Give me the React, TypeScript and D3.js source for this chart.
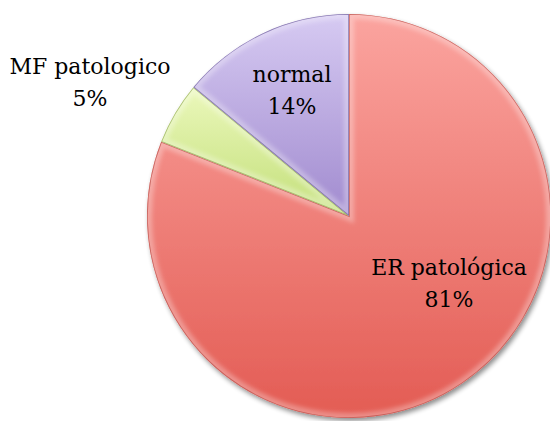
import React from "react";
import * as d3 from "d3";

const categories = ["ER patológica", "MF patologico", "normal"];
const values = [81, 5, 14];
const percentLabels = ["81%", "5%", "14%"];
const colorTop = ["#fba49f", "#ebf8bb", "#d6caf2"];
const colorBottom = ["#e35c54", "#c3df7a", "#a18bcf"];
const edgeColors = ["#b84a44", "#8fa850", "#6a5898"];

const W = 550;
const H = 421;
const CX = 349;
const CY = 216;
const R = 202;
// label anchor offsets relative to pie centre (Excel-style best-fit placement)
const LABEL_OFFSETS: [number, number][] = [
  [100, 75],
  [-259, -126],
  [-57, -118],
];

export default function App() {
  const pie = d3
    .pie<number>()
    .sort(null)
    .startAngle(0)
    .endAngle(2 * Math.PI)
    .value((d) => d);
  const arcs = pie(values);
  const arcGen = d3.arc<d3.PieArcDatum<number>>().innerRadius(0).outerRadius(R);

  return (
    <svg
      width={W}
      height={H}
      style={{ position: "absolute", left: 0, top: 0, background: "#fff" }}
    >
      <defs>
        <filter id="shadow" x="-10%" y="-10%" width="130%" height="130%">
          <feGaussianBlur in="SourceAlpha" stdDeviation="2.5" />
          <feOffset dx="2" dy="3" result="off" />
          <feComponentTransfer>
            <feFuncA type="linear" slope="0.45" />
          </feComponentTransfer>
          <feMerge>
            <feMergeNode />
            <feMergeNode in="SourceGraphic" />
          </feMerge>
        </filter>
        <filter id="soft" x="-5%" y="-5%" width="110%" height="110%">
          <feGaussianBlur stdDeviation="2" />
        </filter>
        {arcs.map((a, i) => (
          <linearGradient key={i} id={`g${i}`} x1="0" y1="0" x2="0" y2="1">
            <stop offset="0%" stopColor={colorTop[i]} />
            <stop offset="100%" stopColor={colorBottom[i]} />
          </linearGradient>
        ))}
        {arcs.map((a, i) => (
          <clipPath key={i} id={`c${i}`}>
            <path d={arcGen(a) || ""} />
          </clipPath>
        ))}
      </defs>
      <g transform={`translate(${CX},${CY})`}>
        <g filter="url(#shadow)">
          {arcs.map((a, i) => (
            <path key={i} d={arcGen(a) || ""} fill={`url(#g${i})`} />
          ))}
        </g>
        {arcs.map((a, i) => (
          <g key={i} clipPath={`url(#c${i})`}>
            <path
              d={arcGen(a) || ""}
              fill="none"
              stroke="#ffffff"
              strokeOpacity={0.3}
              strokeWidth={10}
              filter="url(#soft)"
            />
            <path
              d={arcGen(a) || ""}
              fill="none"
              stroke={edgeColors[i]}
              strokeOpacity={0.7}
              strokeWidth={1.6}
            />
          </g>
        ))}
        {arcs.map((a, i) => {
          const [dx, dy] = LABEL_OFFSETS[i];
          return (
            <text
              key={i}
              x={dx}
              y={dy}
              textAnchor="middle"
              fontSize={22}
              fill="#000"
              fontFamily="DejaVu Serif"
            >
              <tspan x={dx} y={dy - 16}>
                {categories[i]}
              </tspan>
              <tspan x={dx} y={dy + 16}>
                {percentLabels[i]}
              </tspan>
            </text>
          );
        })}
      </g>
    </svg>
  );
}
